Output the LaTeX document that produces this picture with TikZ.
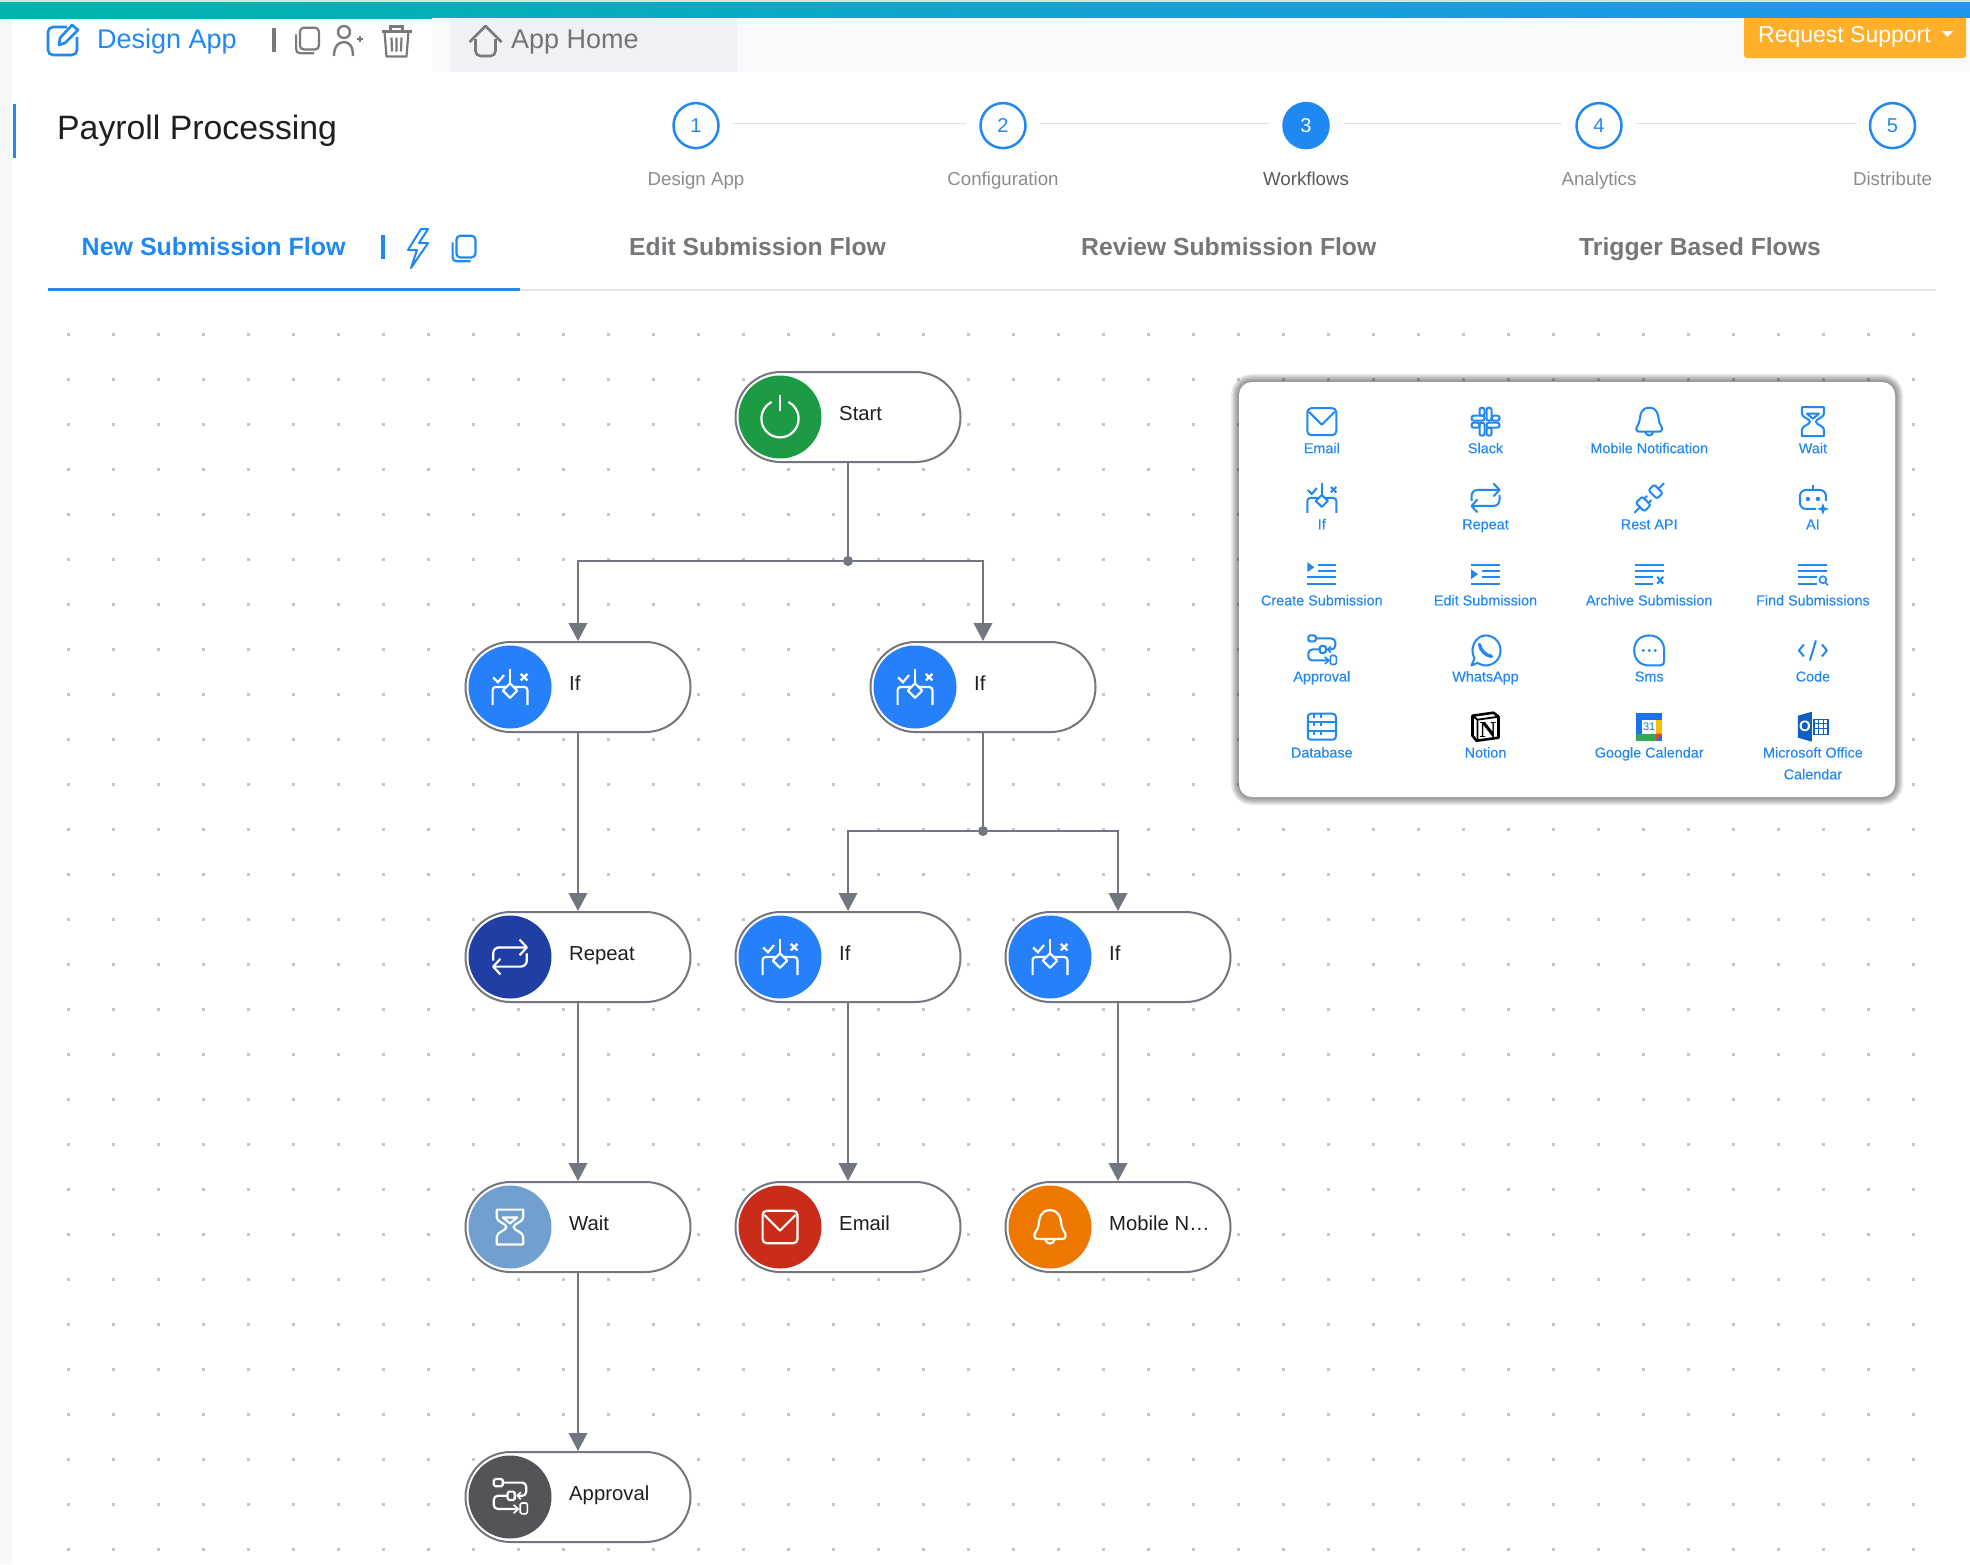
\documentclass[tikz,border=0pt]{standalone}
\usepackage{fontspec}
\setmainfont{Liberation Sans}
\newfontfamily\notionfont{Liberation Serif}
\usetikzlibrary{arrows.meta}
\definecolor{flowgrey}{HTML}{72767F}
\definecolor{griddot}{HTML}{C6C6C6}
\definecolor{appblue}{HTML}{2088F2}
\definecolor{toolgrey}{HTML}{7A7A7A}
\definecolor{tabgrey}{HTML}{77777B}
\definecolor{rulegrey}{HTML}{E4E4E6}
\definecolor{barpale}{HTML}{F9F8FB}
\definecolor{tabpale}{HTML}{F1F0F5}
\definecolor{startgreen}{HTML}{1C9A44}
\definecolor{ifblue}{HTML}{2680FA}
\definecolor{repeatblue}{HTML}{1F3FA5}
\definecolor{waitblue}{HTML}{709FD0}
\definecolor{mailred}{HTML}{C92C18}
\definecolor{bellorange}{HTML}{EE7700}
\definecolor{approvalgrey}{HTML}{555358}
\definecolor{supportorange}{HTML}{FFB02A}
\definecolor{calblue}{HTML}{1A73E8}
\definecolor{calyellow}{HTML}{FBBC04}
\definecolor{calgreen}{HTML}{34A853}
\definecolor{calred}{HTML}{EA4335}
\definecolor{officeblue}{HTML}{0F5FC0}

\begin{document}
\begin{tikzpicture}[x=1pt,y=-1pt,
  flowpill/.style={draw=flowgrey,line width=2pt,fill=white,rounded corners=45pt,minimum width=225pt,minimum height=90pt,inner sep=0pt},
  flowbadge/.style={circle,minimum size=83pt,inner sep=0pt},
  flowlabel/.style={anchor=west,inner sep=0pt,text height=15pt,text depth=5pt,text=black!88,font=\fontsize{20.3}{24}\selectfont},
  flowline/.style={draw=flowgrey,line width=2pt},
  flowarrow/.style={flowline,-{Triangle[length=18pt,width=18.5pt]}},
  forkdot/.style={circle,fill=flowgrey,minimum size=10pt,inner sep=0pt},
  toollabel/.style={anchor=north,inner sep=0pt,align=center,text=appblue,font=\fontsize{14.4}{21.7}\selectfont\addfontfeature{FakeBold=0.2}},
  stepcircle/.style={circle,draw=appblue,line width=2.5pt,fill=white,minimum size=45pt,inner sep=0pt,text=appblue,font=\fontsize{20}{24}\selectfont},
  stepdone/.style={stepcircle,fill=appblue,text=white},
  stepline/.style={draw=rulegrey,line width=1.5pt,shorten >=13pt,shorten <=13pt},
  steplabel/.style={inner sep=0pt,text height=15pt,text depth=5pt,text=black!45,font=\fontsize{18.7}{24}\selectfont},
  tablabel/.style={anchor=west,inner sep=0pt,text height=19pt,text depth=6pt,text=tabgrey,font=\fontsize{24.7}{30}\selectfont\bfseries},
  headlabel/.style={anchor=west,inner sep=0pt,text height=20pt,text depth=6pt,font=\fontsize{27}{31}\selectfont},
]
\newcommand{\iconmail}{
\draw[rounded corners=4pt] (-14.5,-13.5) rectangle (14.5,13.5);
\draw[line join=round] (-13,-10) -- (0,3) -- (13,-10);
}
\newcommand{\iconslack}{
\draw[rounded corners=2.2pt] (-14,-6) rectangle (-1,-1);
\draw[rounded corners=2.2pt] (-6,-14) rectangle (-1,-6);
\draw[rounded corners=2.2pt] (1,-14) rectangle (6,-1);
\draw[rounded corners=2.2pt] (6,-6) rectangle (14,-1);
\draw[rounded corners=2.2pt] (1,1) rectangle (14,6);
\draw[rounded corners=2.2pt] (1,6) rectangle (6,14);
\draw[rounded corners=2.2pt] (-6,1) rectangle (-1,14);
\draw[rounded corners=2.2pt] (-14,1) rectangle (-6,6);
}
\newcommand{\iconbell}{
\draw (0,-14) .. controls (-8,-14) and (-9,-7) .. (-9.5,-2) .. controls (-10,3) and (-13,4) .. (-13,7) .. controls (-13,10) and (-11,10) .. (-9,10) -- (9,10) .. controls (11,10) and (13,10) .. (13,7) .. controls (13,4) and (10,3) .. (9.5,-2) .. controls (9,-7) and (8,-14) .. (0,-14) -- cycle;
\draw (-4,10) .. controls (-3,15) and (3,15) .. (4,10);
}
\newcommand{\iconwait}{
\draw[line join=round] (-11,-14.5) -- (11,-14.5) -- (11,-8) .. controls (11,-4) and (3,-3) .. (3,0) .. controls (3,3) and (11,4) .. (11,8) -- (11,14.5) -- (-11,14.5) -- (-11,8) .. controls (-11,4) and (-3,3) .. (-3,0) .. controls (-3,-3) and (-11,-4) .. (-11,-8) -- cycle;
\draw[line join=round] (-6,-8) -- (6,-8) -- (0,-3) -- cycle;
}
\newcommand{\iconif}{
\draw (0,-15) -- (0,-3);
\draw[line join=round] (0,-3) -- (6,3) -- (0,9) -- (-6,3) -- cycle;
\draw[rounded corners=3pt] (-14.5,15) -- (-14.5,0) -- (-3,0);
\draw[rounded corners=3pt] (14.5,15) -- (14.5,0) -- (3,0);
\draw (-14,-8) -- (-10,-4) -- (-5,-10);
\draw (9,-11) -- (14.5,-5.5) (14.5,-11) -- (9,-5.5);
}
\newcommand{\iconrepeat}{
\draw[rounded corners=6pt] (-14,3) -- (-14,-8) -- (13,-8);
\draw[line join=round] (8,-14.5) -- (14,-8) -- (8,-1.5);
\draw[rounded corners=6pt] (14,-3) -- (14,8) -- (-13,8);
\draw[line join=round] (-8,14.5) -- (-14,8) -- (-8,1.5);
}
\newcommand{\iconrest}{
\begin{scope}[rotate=45]
\draw (-21,0) -- (-13,0);
\draw[rounded corners=2pt] (-4,-6) -- (-13,-6) -- (-13,6) -- (-4,6) -- cycle;
\draw (-4,-3) -- (0,-3) (-4,3) -- (0,3);
\draw (21,0) -- (13,0);
\draw[rounded corners=2pt] (5,-6) -- (13,-6) -- (13,6) -- (5,6) -- cycle;
\end{scope}
}
\newcommand{\iconai}{
\draw[rounded corners=6pt] (3,11) -- (-13,11) -- (-13,-8) -- (13,-8) -- (13,3);
\draw (0,-8) -- (0,-13);
\fill (-5,1) circle[radius=2.2] (5,1) circle[radius=2.2];
\fill (10,5) -- (11.5,9.5) -- (16,11) -- (11.5,12.5) -- (10,17) -- (8.5,12.5) -- (4,11) -- (8.5,9.5) -- cycle;
}
\newcommand{\iconcreate}{
\fill (-14.5,-12) -- (-7.5,-7) -- (-14.5,-2) -- cycle;
\draw (-4,-9.5) -- (14.5,-9.5) (-4,-3.5) -- (14.5,-3.5) (-14.5,3) -- (14.5,3) (-14.5,10) -- (14.5,10);
}
\newcommand{\iconedit}{
\fill (-14.5,-5) -- (-7.5,0) -- (-14.5,5) -- cycle;
\draw (-14.5,-9.5) -- (14.5,-9.5) (-4,-3.5) -- (14.5,-3.5) (-4,3) -- (14.5,3) (-14.5,10) -- (14.5,10);
}
\newcommand{\iconarchive}{
\draw (-14.5,-9.5) -- (14.5,-9.5) (-14.5,-3.5) -- (14.5,-3.5) (-14.5,3) -- (4,3) (-14.5,10) -- (4,10);
\draw (8,2.5) -- (14,9.5) (14,2.5) -- (8,9.5);
}
\newcommand{\iconfind}{
\draw (-14.5,-9.5) -- (14.5,-9.5) (-14.5,-3.5) -- (14.5,-3.5) (-14.5,3) -- (4,3) (-14.5,10) -- (4,10);
\draw[line width=1.6pt] (10,5.5) circle[radius=3.5] (12.5,8.5) -- (15,11);
}
\newcommand{\iconapproval}{
\draw[rounded corners=1.5pt] (-13.5,-15) rectangle (-6,-9);
\draw[rounded corners=4pt] (-6,-12) -- (13.5,-12) -- (13.5,-1) -- (6,-1);
\draw[line width=1.6pt] (9,-4) -- (6,-1) -- (9,2);
\draw[rounded corners=1.5pt] (-2,-4.5) rectangle (4,2.5);
\draw[rounded corners=4pt] (-2,-1) -- (-13.5,-1) -- (-13.5,10) -- (7,10);
\draw[line width=1.6pt] (3,6.5) -- (7,10) -- (3,13.5);
\draw[line width=1.6pt,rounded corners=1.5pt] (8.5,5) rectangle (14.5,14);
}
\newcommand{\iconwhatsapp}{
\draw[line join=round] (-11,8) .. controls (-17,-3) and (-9,-15) .. (0,-15) .. controls (9,-15) and (15,-8) .. (15,0) .. controls (15,9) and (8,15) .. (0,15) .. controls (-4,15) and (-6,13) .. (-8,12.5) -- (-14,15) -- cycle;
\draw[line width=3.4pt,line cap=round] (-6,-6) .. controls (-5,0) and (0,5) .. (6,6);
}
\newcommand{\iconsms}{
\draw (0,-15) .. controls (-9,-15) and (-15,-9) .. (-15,0) .. controls (-15,9) and (-9,15) .. (0,15) -- (11,15) .. controls (14,15) and (15,13) .. (15,10) -- (15,0) .. controls (15,-9) and (9,-15) .. (0,-15) -- cycle;
\fill (-6,0) circle[radius=1.6] (0,0) circle[radius=1.6] (6,0) circle[radius=1.6];
}
\newcommand{\iconcode}{
\draw[line join=round] (-9,-6) -- (-14,0) -- (-9,6) (9,-6) -- (14,0) -- (9,6) (3,-10) -- (-3,10);
}
\newcommand{\icondatabase}{
\draw[rounded corners=3pt] (-14,-13) rectangle (14,13);
\draw (-14,-5) -- (14,-5) (-14,4) -- (14,4);
\draw[line width=1.4pt] (-8,-13) -- (-8,-9) (-1,-13) -- (-1,-9) (-8,-5) -- (-8,-1) (-1,-5) -- (-1,-1) (-8,4) -- (-8,8) (-1,4) -- (-1,8);
}
\newcommand{\iconnotion}{
\fill[white,draw=black,line width=2.6pt,line join=round] (-13,-11) -- (8,-14) -- (13,-10) -- (13,11) -- (-9,14) -- (-13,9) -- cycle;
\draw[black,line width=1.8pt] (-13,-11) -- (-8,-7) -- (13,-10) (-8,-7) -- (-8,13);
\node[inner sep=0pt,text=black,font=\fontsize{23}{23}\notionfont\bfseries] (notionn) at (2.5,3) {N};
}
\newcommand{\icongoogle}{
\fill[calblue] (-13,-14) rectangle (13,14);
\fill[white] (-7,-7) rectangle (7,7);
\fill[calyellow] (7,-7) rectangle (13,7);
\fill[calgreen] (-13,7) rectangle (7,14);
\fill[calred] (7,7) -- (13,7) -- (7,14) -- cycle;
\node[inner sep=0pt,text=calblue,font=\fontsize{11}{11}\selectfont] (googleday) at (0,0) {31};
}
\newcommand{\iconoutlook}{
\fill[officeblue] (-15,-11) -- (-1,-15) -- (-1,15) -- (-15,11) -- cycle;
\draw[officeblue,line width=1.2pt] (1,-7) rectangle (15,8);
\draw[officeblue,line width=.7pt] (5,-7) -- (5,8) (10,-7) -- (10,8) (1,-3) -- (15,-3) (1,2) -- (15,2);
\node[inner sep=0pt,text=white,font=\fontsize{15}{15}\selectfont\bfseries] (outlooko) at (-8,0) {O};
}
\newcommand{\iconcopy}{
\draw[rounded corners=4pt] (-8,-13) rectangle (12,10);
\draw[rounded corners=4pt] (-12,-6) -- (-12,14) -- (7,14);
}
\newcommand{\iconpower}{
\draw (0,-18) -- (0,-5);
\draw (-7,-12.5) .. controls (-12,-10) and (-15.5,-5) .. (-15.5,1.5) .. controls (-15.5,10) and (-8.5,17) .. (0,17) .. controls (8.5,17) and (15.5,10) .. (15.5,1.5) .. controls (15.5,-5) and (12,-10) .. (7,-12.5);
}
\newcommand{\flowstep}[6]{
\node[flowpill] (#1) at (#2,#3) {};
\node[flowbadge,fill=#4] (#1badge) at ([xshift=45.5pt]#1.west) {};
\node[flowlabel] (#1label) at ([xshift=104.5pt,yshift=1.3pt]#1.west) {#6};
\begin{scope}[shift={(#1badge.center)},scale=1.2,line width=2.2pt,white]
#5
\end{scope}
}

\useasboundingbox (0,0) rectangle (1970,1564);
\fill[white] (0,0) rectangle (1970,1564);
\fill[black!3] (0,18) rectangle (12,1564);
\fill[black!12] (0,0) rectangle (1970,2);
\fill[left color={rgb,255:red,0;green,182;blue,170},middle color={rgb,255:red,14;green,172;blue,200},right color={rgb,255:red,30;green,150;blue,238}] (0,2) rectangle (1970,18);
\fill[barpale] (432,18) rectangle (1970,72);
\fill[tabpale] (450,18) rectangle (737,72);

\foreach \gridx in {0,...,41}
  \foreach \gridy in {0,...,27}
    \fill[griddot] (67.3+45*\gridx,332.9+45*\gridy) rectangle ++(2.7,2.7);

\begin{scope}[shift={(63,40)},appblue,line width=2.6pt]
\draw[rounded corners=5pt] (4,-13) -- (-15,-13) -- (-15,15) -- (14,15) -- (14,-3);
\draw[line join=round] (-4,5) -- (-3,-2) -- (9,-15) -- (15,-10) -- (2,3) -- cycle;
\end{scope}
\node[headlabel,text=appblue] (appname) at (97,41.3) {Design App};
\draw[toolgrey,line width=4pt] (274,28) -- (274,52);
\begin{scope}[shift={(307.5,40)},toolgrey,line width=2.2pt,scale=.95]
\iconcopy
\end{scope}
\begin{scope}[shift={(348,41)},toolgrey,line width=2.4pt]
\draw (-4,-9) circle[radius=6];
\draw (-14,15) .. controls (-14,6) and (-10,1) .. (-4,1) .. controls (1,1) and (5,5) .. (5,15);
\draw (9,-2) -- (15,-2) (12,-5) -- (12,1);
\end{scope}
\begin{scope}[shift={(396.5,41.5)},toolgrey,line width=2.2pt]
\draw (-15,-10) -- (15,-10);
\draw (-6,-10) -- (-6,-15) -- (6,-15) -- (6,-10);
\draw[line join=round] (-12,-10) -- (-10,15) -- (10,15) -- (12,-10);
\draw (-5,-4) -- (-4.5,10) (0,-4) -- (0,10) (5,-4) -- (4.5,10);
\end{scope}
\begin{scope}[shift={(485.5,41)},toolgrey,line width=2.6pt]
\draw[line join=round] (-16,1) -- (0,-15) -- (16,1);
\draw[rounded corners=5pt] (-10,-2) -- (-10,15) -- (10,15) -- (10,-2);
\end{scope}
\node[headlabel,text=toolgrey!95!black] (apphome) at (511,41.3) {App Home};
\node[inner sep=0pt,fill=supportorange,rounded corners=3pt,minimum width=222pt,minimum height=40pt] (support) at (1855,38) {};
\fill[supportorange] (support.north west) rectangle ([yshift=-8pt]support.north east);
\node[anchor=west,inner sep=0pt,text height=17pt,text depth=5pt,text=white,font=\fontsize{23}{26}\selectfont] (supportlabel) at (1758,36.5) {Request Support};
\fill[white] (1942,31) -- (1953,31) -- (1947.5,37) -- cycle;

\fill[appblue] (12.7,104) rectangle (15.8,158);
\node[anchor=west,inner sep=0pt,text height=26pt,text depth=8pt,text=black!88,font=\fontsize{33.8}{40}\selectfont] (apptitle) at (57,130.5) {Payroll Processing};

\node[stepcircle] (step1) at (696,125.6) {1};
\node[stepcircle] (step2) at (1003,125.6) {2};
\node[stepdone] (step3) at (1306,125.6) {3};
\node[stepcircle] (step4) at (1599,125.6) {4};
\node[stepcircle] (step5) at (1892.5,125.6) {5};
\foreach \stepa/\stepb in {1/2,2/3,3/4,4/5}
  \draw[stepline] ([yshift=2.3pt]step\stepa.east) -- ([yshift=2.3pt]step\stepb.west);
\node[steplabel] (steptext1) at (696,180) {Design App};
\node[steplabel] (steptext2) at (1003,180) {Configuration};
\node[steplabel,text=black!65] (steptext3) at (1306,180) {Workflows};
\node[steplabel] (steptext4) at (1599,180) {Analytics};
\node[steplabel] (steptext5) at (1892.5,180) {Distribute};

\node[tablabel,text=appblue] (tabnew) at (81.5,248.5) {\fontsize{25}{30}\selectfont New Submission Flow};
\draw[appblue,line width=4pt] (383,235) -- (383,259);
\draw[appblue,line width=2pt,line join=round] (421,229) -- (408,250) -- (417,250) -- (411,268) -- (428,243) -- (419,243) -- (428,229) -- cycle;
\begin{scope}[shift={(464,248)},appblue,line width=2.2pt,scale=.95]
\iconcopy
\end{scope}
\node[tablabel] (tabedit) at (629,248.5) {Edit Submission Flow};
\node[tablabel] (tabreview) at (1081,248.5) {Review Submission Flow};
\node[tablabel] (tabtrigger) at (1579,248.5) {Trigger Based Flows};
\draw[rulegrey,line width=1.5pt] (48,290) -- (1936,290);
\draw[appblue,line width=3pt] (48,289) -- (520,289);

\foreach \spread in {16,13,10,7,4}
  \draw[black,opacity=.09,line width=\spread pt,rounded corners=13pt] (1239,382) rectangle (1895,797);
\fill[white,rounded corners=13pt] (1239,382) rectangle (1895,797);
\foreach \col/\row/\toolname/\toolicon in {
  0/0/Email/\iconmail,1/0/Slack/\iconslack,2/0/Mobile Notification/\iconbell,3/0/Wait/\iconwait,
  0/1/If/\iconif,1/1/Repeat/\iconrepeat,2/1/Rest API/\iconrest,3/1/AI/\iconai,
  0/2/Create Submission/\iconcreate,1/2/Edit Submission/\iconedit,2/2/Archive Submission/\iconarchive,3/2/Find Submissions/\iconfind,
  0/3/Approval/\iconapproval,1/3/WhatsApp/\iconwhatsapp,2/3/Sms/\iconsms,3/3/Code/\iconcode,
  0/4/Database/\icondatabase,1/4/Notion/\iconnotion,2/4/Google Calendar/\icongoogle,3/4/Microsoft Office\\Calendar/\iconoutlook}{
  \begin{scope}[shift={(1321.8+163.7*\col,421.7+76.25*\row)},appblue,line width=2pt]
  \toolicon
  \end{scope}
  \node[toollabel] (tool\col\row) at (1321.8+163.7*\col,437.8+76.1*\row) {\strut\toolname};
}

\flowstep{start}{848}{417}{startgreen}{\iconpower}{Start}
\flowstep{ifa}{578}{687}{ifblue}{\iconif}{If}
\flowstep{ifb}{983}{687}{ifblue}{\iconif}{If}
\flowstep{repeatstep}{578}{957}{repeatblue}{\iconrepeat}{Repeat}
\flowstep{ifc}{848}{957}{ifblue}{\iconif}{If}
\flowstep{ifd}{1118}{957}{ifblue}{\iconif}{If}
\flowstep{waitstep}{578}{1227}{waitblue}{\iconwait}{Wait}
\flowstep{emailstep}{848}{1227}{mailred}{\iconmail}{Email}
\flowstep{mobilestep}{1118}{1227}{bellorange}{\iconbell}{Mobile N…}
\flowstep{approvalstep}{578}{1497}{approvalgrey}{\iconapproval}{Approval}

\node[forkdot] (forka) at (848,561) {};
\node[forkdot] (forkb) at (983,831) {};
\draw[flowline] (start) -- (forka);
\draw[flowarrow] (forka) -| (ifa);
\draw[flowarrow] (forka) -| (ifb);
\draw[flowarrow] (ifa) -- (repeatstep);
\draw[flowline] (ifb) -- (forkb);
\draw[flowarrow] (forkb) -| (ifc);
\draw[flowarrow] (forkb) -| (ifd);
\draw[flowarrow] (repeatstep) -- (waitstep);
\draw[flowarrow] (ifc) -- (emailstep);
\draw[flowarrow] (ifd) -- (mobilestep);
\draw[flowarrow] (waitstep) -- (approvalstep);
\end{tikzpicture}
\end{document}
